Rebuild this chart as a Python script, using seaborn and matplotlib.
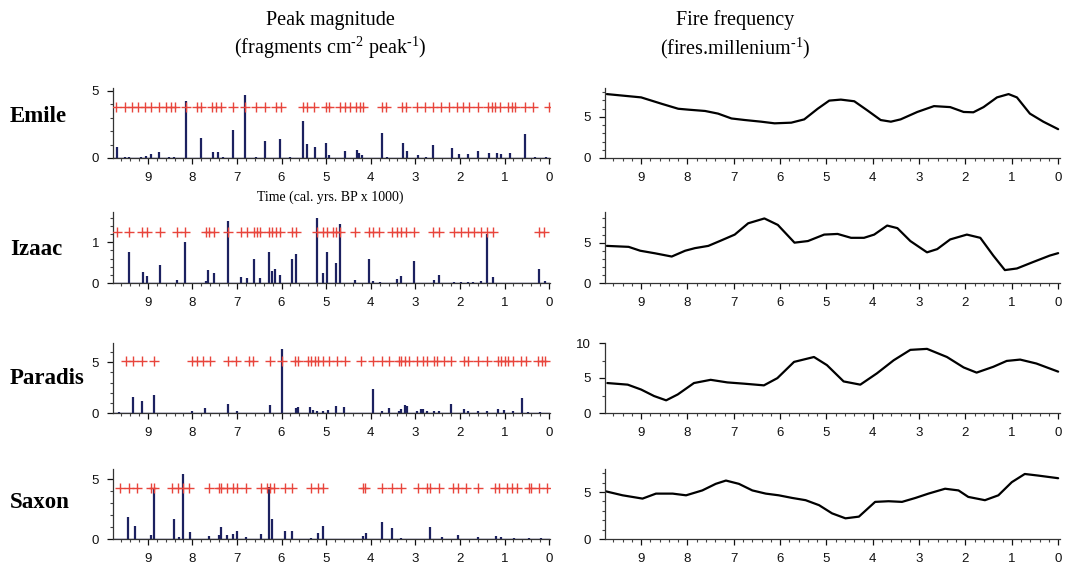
import numpy as np
import pandas as pd
import seaborn as sns
import matplotlib
matplotlib.use("Agg")
import matplotlib.pyplot as plt
from matplotlib.ticker import MultipleLocator

# ---- peak magnitude (left column) ----
emile_peak_age = [9.68, 9.50, 9.42, 9.16, 9.05, 8.92, 8.75, 8.52, 8.41, 8.15, 7.81, 7.53, 7.43, 7.32,
                  7.08, 6.82, 6.57, 6.37, 6.04, 5.80, 5.52, 5.43, 5.25, 5.00, 4.93, 4.57, 4.31, 4.26,
                  4.20, 3.75, 3.64, 3.27, 3.18, 2.93, 2.76, 2.60, 2.17, 2.03, 1.83, 1.59, 1.34, 1.17,
                  1.08, 0.87, 0.53, 0.32, 0.06]
emile_peak_mag = [0.8, 0.1, 0.05, 0.1, 0.15, 0.3, 0.45, 0.1, 0.1, 4.2, 1.5, 0.45, 0.45, 0.1,
                  2.05, 4.7, 0.1, 1.3, 1.4, 0.05, 2.77, 1.05, 0.8, 1.1, 0.25, 0.5, 0.6, 0.4,
                  0.2, 1.85, 0.1, 1.1, 0.55, 0.25, 0.1, 0.95, 0.75, 0.3, 0.3, 0.55, 0.35, 0.4,
                  0.3, 0.4, 1.75, 0.05, 0.05]
emile_cross_age = [9.71, 9.50, 9.35, 9.22, 9.07, 8.92, 8.75, 8.59, 8.47, 8.39, 8.15, 7.89, 7.81, 7.55,
                   7.46, 7.36, 7.10, 6.83, 6.57, 6.38, 6.12, 6.02, 5.52, 5.44, 5.27, 5.00, 4.93, 4.69,
                   4.57, 4.46, 4.33, 4.25, 4.18, 3.75, 3.65, 3.30, 3.20, 2.96, 2.78, 2.60, 2.43, 2.24,
                   2.07, 1.92, 1.79, 1.60, 1.36, 1.29, 1.21, 1.11, 0.93, 0.84, 0.76, 0.55, 0.36, 0.0]

izaac_peak_age = [9.43, 9.11, 9.01, 8.73, 8.34, 8.16, 7.70, 7.64, 7.51, 7.19, 6.91, 6.78, 6.61, 6.48,
                  6.29, 6.21, 6.15, 6.04, 5.76, 5.67, 5.21, 5.08, 4.98, 4.79, 4.70, 4.36, 4.05, 3.94,
                  3.79, 3.42, 3.32, 3.02, 2.58, 2.47, 2.13, 1.98, 1.83, 1.70, 1.53, 1.39, 1.25, 0.23, 0.10]
izaac_peak_mag = [0.77, 0.27, 0.18, 0.45, 0.07, 1.0, 0.05, 0.33, 0.25, 1.51, 0.15, 0.13, 0.58, 0.13,
                  0.76, 0.3, 0.35, 0.2, 0.6, 0.72, 1.59, 0.25, 0.76, 0.48, 1.45, 0.07, 0.6, 0.05,
                  0.03, 0.1, 0.18, 0.53, 0.07, 0.2, 0.02, 0.02, 0.02, 0.03, 0.06, 1.21, 0.15, 0.35, 0.06]
izaac_cross_age = [9.69, 9.43, 9.13, 9.01, 8.73, 8.34, 8.16, 7.70, 7.62, 7.52, 7.19, 6.91, 6.78, 6.61,
                   6.55, 6.48, 6.29, 6.21, 6.13, 6.04, 5.76, 5.67, 5.21, 5.08, 4.98, 4.84, 4.79, 4.70,
                   4.36, 4.05, 3.94, 3.82, 3.52, 3.42, 3.32, 3.20, 3.02, 2.60, 2.47, 2.13, 1.98, 1.83,
                   1.68, 1.53, 1.39, 1.25, 0.23, 0.12]

paradis_peak_age = [9.65, 9.33, 9.14, 8.86, 8.00, 7.71, 7.21, 7.00, 6.27, 5.99, 5.67, 5.63, 5.36, 5.29,
                    5.20, 5.06, 4.95, 4.78, 4.60, 3.95, 3.75, 3.60, 3.37, 3.32, 3.24, 3.18, 2.97, 2.88,
                    2.82, 2.73, 2.58, 2.47, 2.19, 1.90, 1.83, 1.60, 1.39, 1.15, 1.02, 0.81, 0.61, 0.48, 0.21]
paradis_peak_mag = [0.05, 1.6, 1.15, 1.75, 0.2, 0.5, 0.9, 0.2, 0.75, 6.3, 0.45, 0.55, 0.55, 0.3,
                    0.15, 0.2, 0.25, 0.65, 0.55, 2.37, 0.2, 0.45, 0.2, 0.35, 0.8, 0.7, 0.2, 0.4,
                    0.4, 0.2, 0.15, 0.2, 0.9, 0.35, 0.2, 0.2, 0.2, 0.35, 0.25, 0.2, 1.5, 0.1, 0.05]
paradis_cross_age = [9.48, 9.33, 9.14, 8.86, 8.00, 7.89, 7.76, 7.61, 7.21, 7.02, 6.72, 6.64, 6.27, 5.99,
                     5.70, 5.63, 5.40, 5.33, 5.25, 5.19, 5.06, 4.93, 4.76, 4.57, 4.21, 3.94, 3.75, 3.60,
                     3.37, 3.32, 3.24, 3.15, 2.97, 2.82, 2.73, 2.58, 2.52, 2.36, 2.19, 1.90, 1.83, 1.60,
                     1.39, 1.15, 1.08, 1.00, 0.93, 0.81, 0.62, 0.51, 0.25, 0.17, 0.10]

saxon_peak_age = [9.45, 9.28, 8.92, 8.85, 8.42, 8.31, 8.20, 8.05, 7.63, 7.40, 7.35, 7.22, 7.08, 6.99,
                  6.79, 6.46, 6.28, 6.21, 5.92, 5.77, 5.35, 5.19, 5.06, 4.17, 4.10, 3.75, 3.52, 3.32,
                  2.68, 2.41, 2.05, 1.60, 1.18, 1.08, 0.79, 0.45, 0.19]
saxon_peak_mag = [1.87, 1.05, 0.35, 4.3, 1.65, 0.2, 5.43, 0.55, 0.25, 0.3, 1.0, 0.3, 0.4, 0.65,
                  0.2, 0.4, 4.37, 1.7, 0.65, 0.7, 0.05, 0.5, 1.13, 0.25, 0.5, 1.45, 0.9, 0.05,
                  1.0, 0.15, 0.3, 0.15, 0.25, 0.15, 0.1, 0.1, 0.05]
saxon_cross_age = [9.63, 9.43, 9.24, 8.92, 8.85, 8.45, 8.33, 8.20, 8.07, 7.62, 7.41, 7.35, 7.22, 7.09,
                   6.99, 6.79, 6.46, 6.33, 6.26, 6.18, 5.92, 5.77, 5.35, 5.19, 5.06, 4.17, 4.13, 3.75,
                   3.52, 3.32, 2.94, 2.73, 2.68, 2.47, 2.16, 2.05, 1.86, 1.60, 1.21, 1.13, 0.94, 0.83,
                   0.72, 0.45, 0.41, 0.23, 0.04]

# ---- fire frequency (right column) ----
emile_freq_age = [9.74, 9.0, 8.55, 8.2, 7.98, 7.62, 7.34, 7.05, 6.76, 6.41, 6.12, 5.76, 5.48, 5.19,
                  4.94, 4.69, 4.40, 4.12, 3.83, 3.61, 3.40, 3.04, 2.68, 2.33, 2.04, 1.83, 1.61, 1.32,
                  1.07, 0.89, 0.61, 0.32, 0.0]
emile_freq = [7.76, 7.36, 6.57, 5.98, 5.87, 5.71, 5.39, 4.80, 4.61, 4.41, 4.21, 4.29, 4.69, 5.98,
              6.97, 7.09, 6.89, 5.79, 4.61, 4.41, 4.69, 5.59, 6.30, 6.18, 5.59, 5.55, 6.18, 7.36,
              7.76, 7.36, 5.39, 4.41, 3.50]

izaac_freq_age = [9.74, 9.27, 9.02, 8.70, 8.34, 8.05, 7.84, 7.55, 7.27, 6.98, 6.69, 6.34, 6.05, 5.69,
                  5.40, 5.05, 4.76, 4.47, 4.19, 3.97, 3.69, 3.47, 3.19, 2.83, 2.61, 2.33, 1.97, 1.68,
                  1.40, 1.15, 0.89, 0.54, 0.18, 0.0]
izaac_freq = [4.6, 4.48, 4.0, 3.68, 3.28, 4.0, 4.32, 4.6, 5.28, 6.0, 7.4, 8.0, 7.2, 5.0,
              5.2, 6.0, 6.08, 5.6, 5.6, 6.0, 7.12, 6.8, 5.2, 3.8, 4.2, 5.4, 6.0, 5.6,
              3.4, 1.6, 1.8, 2.6, 3.4, 3.7]

paradis_freq_age = [9.73, 9.29, 9.0, 8.72, 8.46, 8.21, 7.86, 7.50, 7.14, 6.78, 6.35, 6.06, 5.70, 5.27,
                    4.99, 4.63, 4.27, 3.91, 3.55, 3.19, 2.83, 2.40, 2.04, 1.76, 1.40, 1.11, 0.82, 0.47, 0.0]
paradis_freq = [4.28, 4.05, 3.35, 2.42, 1.81, 2.65, 4.28, 4.74, 4.37, 4.19, 3.95, 4.98, 7.30, 8.0,
                6.84, 4.51, 4.05, 5.67, 7.53, 9.02, 9.16, 8.0, 6.51, 5.77, 6.60, 7.44, 7.63, 7.07, 5.91]

saxon_freq_age = [9.76, 9.40, 8.97, 8.68, 8.32, 8.03, 7.68, 7.39, 7.17, 6.89, 6.60, 6.31, 6.03, 5.74,
                  5.45, 5.16, 4.88, 4.59, 4.30, 3.95, 3.66, 3.37, 3.08, 2.80, 2.44, 2.15, 1.94, 1.58,
                  1.29, 1.00, 0.72, 0.43, 0.0]
saxon_freq = [5.07, 4.65, 4.30, 4.83, 4.83, 4.65, 5.17, 5.87, 6.22, 5.87, 5.17, 4.83, 4.65, 4.37,
              4.13, 3.60, 2.73, 2.20, 2.38, 3.95, 4.02, 3.95, 4.37, 4.83, 5.35, 5.17, 4.48, 4.13,
              4.65, 6.05, 6.92, 6.75, 6.47]

sites = ["Emile", "Izaac", "Paradis", "Saxon"]
cross_level = [3.8, 1.25, 5.1, 4.3]
left_ylim = [5.2, 1.74, 6.9, 5.86]
left_yticks = [[0, 5], [0, 1], [0, 5], [0, 5]]
right_ylim = [8.5, 8.8, 10.0, 7.45]
right_yticks = [[0, 5], [0, 5], [0, 5, 10], [0, 5]]

peaks = [(emile_peak_age, emile_peak_mag, emile_cross_age),
         (izaac_peak_age, izaac_peak_mag, izaac_cross_age),
         (paradis_peak_age, paradis_peak_mag, paradis_cross_age),
         (saxon_peak_age, saxon_peak_mag, saxon_cross_age)]
freqs = [(emile_freq_age, emile_freq), (izaac_freq_age, izaac_freq),
         (paradis_freq_age, paradis_freq), (saxon_freq_age, saxon_freq)]

sns.set_style("ticks")
plt.rcParams['font.family'] = ['Liberation Sans', 'DejaVu Sans']
plt.rcParams['text.color'] = 'black'
plt.rcParams['mathtext.fontset'] = 'custom'
plt.rcParams['mathtext.rm'] = 'Liberation Serif'
plt.rcParams['mathtext.it'] = 'Liberation Serif:italic'
plt.rcParams['mathtext.bf'] = 'Liberation Serif:bold'
serif = ['Liberation Serif', 'DejaVu Serif']

fig = plt.figure(figsize=(10.74, 5.69), dpi=100)

# axes rows (pixel y of top / bottom in 569 px figure)
rows = [(88, 158), (212, 283), (343, 413), (469, 539)]
label_y = [117, 250, 378, 503]
H = 569.0
W = 1074.0


def style_axis(ax, ylim, yticks, xr):
    ax.set_xlim(9.78, xr)
    ax.set_ylim(0, ylim)
    ax.set_yticks(yticks)
    ax.xaxis.set_minor_locator(MultipleLocator(0.2))
    ax.yaxis.set_minor_locator(MultipleLocator(2.5 if ylim > 9 else (0.2 if ylim < 2 else 1)))
    ax.set_xticks(range(0, 10))
    ax.set_xticklabels([str(i) for i in range(0, 10)])
    sns.despine(ax=ax)
    for sp in ("left", "bottom"):
        ax.spines[sp].set_linewidth(0.9)
        ax.spines[sp].set_color("#333333")
    ax.tick_params(which="major", length=4, width=0.9, labelsize=9.5, colors="#111111", pad=6)
    ax.tick_params(which="minor", length=2, width=0.8, colors="#444444")
    ax.set_xlabel("")
    ax.set_ylabel("")


for i, site in enumerate(sites):
    top, bot = rows[i]
    y0 = 1 - bot / H
    h = (bot - top) / H

    # left: peak magnitudes + red crosses
    axl = fig.add_axes([113 / W, y0, (550 - 113) / W, h])
    age, mag, cross = peaks[i]
    axl.vlines(age, 0, mag, color="#1c2160", lw=1.6)
    cdf = pd.DataFrame({"age": cross, "lvl": [cross_level[i]] * len(cross)})
    sns.scatterplot(data=cdf, x="age", y="lvl", ax=axl, marker="+", s=50,
                    color="#e8453c", linewidth=1.0, legend=False, zorder=3)
    axl.axhline(0, color="#1c2160", lw=1.0)
    style_axis(axl, left_ylim[i], left_yticks[i], -0.02)

    # right: fire frequency curve
    axr = fig.add_axes([605 / W, y0, (1060 - 605) / W, h])
    fa, fv = freqs[i]
    fdf = pd.DataFrame({"age": fa, "freq": fv})
    sns.lineplot(data=fdf, x="age", y="freq", ax=axr, color="black", lw=1.6, sort=False)
    for ln in axr.lines:
        ln.set_solid_joinstyle("round")
    style_axis(axr, right_ylim[i], right_yticks[i], -0.04)

    fig.text(10 / W, 1 - label_y[i] / H, site, family=serif, fontsize=16.5,
             fontweight="bold", ha="left", va="center")

fig.text(330 / W, 1 - 20 / H, "Peak magnitude", family=serif, fontsize=14.5, ha="center", va="center")
fig.text(330 / W, 1 - 48 / H, r"(fragments cm$^{\text{-2}}$ peak$^{\text{-1}}$)", family=serif,
         fontsize=14.5, ha="center", va="center")
fig.text(735 / W, 1 - 20 / H, "Fire frequency", family=serif, fontsize=14.5, ha="center", va="center")
fig.text(735 / W, 1 - 48 / H, r"(fires.millenium$^{\text{-1}}$)", family=serif, fontsize=14.5,
         ha="center", va="center")
fig.text(330 / W, 1 - 197 / H, "Time (cal. yrs. BP x 1000)", family=serif, fontsize=10,
         ha="center", va="center")

fig.savefig("out.png", dpi=100)
